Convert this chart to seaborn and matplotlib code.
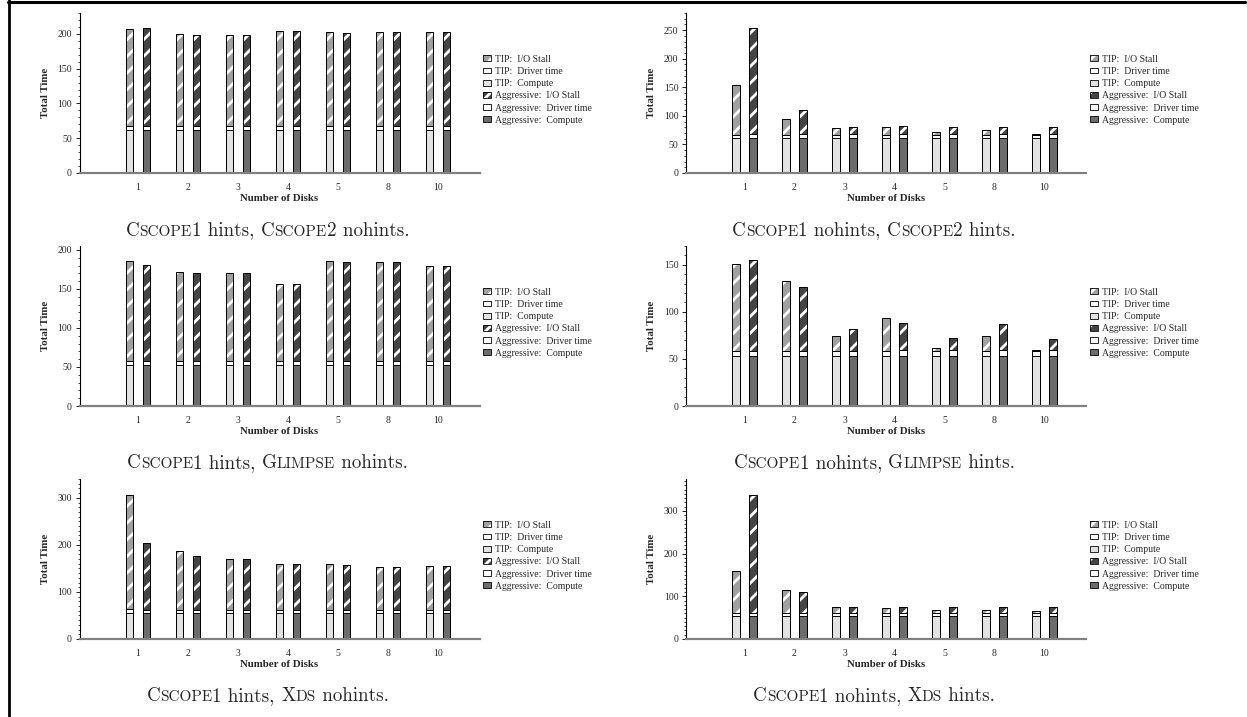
import pandas as pd
import seaborn as sns
import matplotlib.pyplot as plt
from matplotlib.patches import Patch
from matplotlib.lines import Line2D
from matplotlib.ticker import MultipleLocator

disks = ["1", "2", "3", "4", "5", "8", "10"]
policies = ["TIP", "Aggressive"]

#### Cscope1 hints, Cscope2 nohints
cs2_tip_compute = [62, 62, 62, 62, 62, 62, 62]
cs2_tip_driver = [6, 6, 6, 6, 6, 6, 6]
cs2_tip_stall = [139, 132, 131, 136, 134, 135, 134]
cs2_agg_compute = [62, 62, 62, 62, 62, 62, 62]
cs2_agg_driver = [6, 6, 6, 6, 6, 6, 6]
cs2_agg_stall = [141, 131, 130, 136, 133, 135, 134]

#### Cscope1 nohints, Cscope2 hints
cs2h_tip_compute = [62, 62, 62, 62, 62, 62, 62]
cs2h_tip_driver = [5, 5, 5, 5, 5, 5, 5]
cs2h_tip_stall = [87, 27, 11, 13, 4, 9, 1]
cs2h_agg_compute = [62, 62, 62, 62, 62, 62, 62]
cs2h_agg_driver = [7, 7, 7, 7, 7, 7, 7]
cs2h_agg_stall = [185, 41, 12, 14, 12, 12, 12]

#### Cscope1 hints, Glimpse nohints
gl_tip_compute = [53, 53, 53, 53, 53, 53, 53]
gl_tip_driver = [5, 5, 5, 5, 5, 5, 5]
gl_tip_stall = [128, 114, 112, 98, 128, 126, 122]
gl_agg_compute = [53, 53, 53, 53, 53, 53, 53]
gl_agg_driver = [5, 5, 5, 5, 5, 5, 5]
gl_agg_stall = [123, 113, 112, 98, 127, 126, 122]

#### Cscope1 nohints, Glimpse hints
glh_tip_compute = [53, 53, 53, 53, 53, 53, 53]
glh_tip_driver = [5, 5, 5, 5, 5, 5, 5]
glh_tip_stall = [93, 75, 16, 36, 4, 16, 2]
glh_agg_compute = [53, 53, 53, 53, 53, 53, 53]
glh_agg_driver = [5, 5, 5, 6, 6, 7, 7]
glh_agg_stall = [97, 68, 24, 29, 13, 27, 11]

#### Cscope1 hints, Xds nohints
xds_tip_compute = [55, 55, 55, 55, 55, 55, 55]
xds_tip_driver = [9, 6, 6, 6, 6, 6, 6]
xds_tip_stall = [243, 126, 108, 99, 98, 91, 94]
xds_agg_compute = [55, 55, 55, 55, 55, 55, 55]
xds_agg_driver = [6, 6, 6, 6, 6, 6, 6]
xds_agg_stall = [142, 115, 108, 99, 97, 91, 95]

#### Cscope1 nohints, Xds hints
xdsh_tip_compute = [55, 55, 55, 55, 55, 55, 55]
xdsh_tip_driver = [6, 6, 6, 6, 6, 6, 6]
xdsh_tip_stall = [98, 55, 14, 11, 8, 6, 5]
xdsh_agg_compute = [55, 55, 55, 55, 55, 55, 55]
xdsh_agg_driver = [6, 6, 6, 6, 6, 6, 6]
xdsh_agg_stall = [277, 49, 15, 15, 15, 15, 15]

# captions: (text, small caps?)
cap_cs2 = [("C", 0), ("SCOPE", 1), ("1 hints, ", 0), ("C", 0), ("SCOPE", 1), ("2 nohints.", 0)]
cap_cs2h = [("C", 0), ("SCOPE", 1), ("1 nohints, ", 0), ("C", 0), ("SCOPE", 1), ("2 hints.", 0)]
cap_gl = [("C", 0), ("SCOPE", 1), ("1 hints, ", 0), ("G", 0), ("LIMPSE", 1), (" nohints.", 0)]
cap_glh = [("C", 0), ("SCOPE", 1), ("1 nohints, ", 0), ("G", 0), ("LIMPSE", 1), (" hints.", 0)]
cap_xds = [("C", 0), ("SCOPE", 1), ("1 hints, ", 0), ("X", 0), ("DS", 1), (" nohints.", 0)]
cap_xdsh = [("C", 0), ("SCOPE", 1), ("1 nohints, ", 0), ("X", 0), ("DS", 1), (" hints.", 0)]

legend_labels = ["TIP:  I/O Stall", "TIP:  Driver time", "TIP:  Compute",
                 "Aggressive:  I/O Stall", "Aggressive:  Driver time", "Aggressive:  Compute"]

sns.set_style("ticks")
plt.rcParams["font.family"] = ["Liberation Serif", "DejaVu Serif"]
plt.rcParams["hatch.linewidth"] = 2.0

W, H = 1247, 717
fig = plt.figure(figsize=(W / 100, H / 100), dpi=100)

light = "#e2e2e2"
dark = "#6c6c6c"
tip_io = "#a0a0a0"
agg_io = "#444444"


def stacked(ax, tip, agg, top):
    rows = []
    for pol, (c, d, s) in zip(policies, [tip, agg]):
        for k, disk in enumerate(disks):
            rows.append({"disk": disk, "policy": pol, "compute": c[k],
                         "driver": c[k] + d[k], "total": c[k] + d[k] + s[k]})
    df = pd.DataFrame(rows)
    kw = dict(data=df, x="disk", hue="policy", order=disks, hue_order=policies,
              width=0.68, gap=0.55, errorbar=None, legend=False, saturation=1, ax=ax)
    io_pal = {"TIP": tip_io, "Aggressive": agg_io}
    # hatched stall part (white stripes)
    n = len(ax.patches)
    sns.barplot(y="total", palette=io_pal, **kw)
    for p in ax.patches[n:]:
        p.set_linewidth(0)
        p.set_edgecolor("white")
        p.set_hatch("//")
    # outline of the whole bar
    n = len(ax.patches)
    sns.barplot(y="total", palette=io_pal, **kw)
    for p in ax.patches[n:]:
        p.set_facecolor("none")
        p.set_edgecolor("black")
        p.set_linewidth(0.7)
    sns.barplot(y="driver", palette={"TIP": "white", "Aggressive": "white"},
                edgecolor="black", linewidth=0.7, **kw)
    sns.barplot(y="compute", palette={"TIP": light, "Aggressive": dark},
                edgecolor="black", linewidth=0.7, **kw)

    ax.set_xlim(-1.17, 6.83)
    ax.set_ylim(0, top)
    ax.yaxis.set_major_locator(MultipleLocator(100 if top > 300 else 50))
    ax.yaxis.set_minor_locator(MultipleLocator(10))
    ax.spines[["top", "right"]].set_visible(False)
    ax.spines["left"].set_color("black")
    ax.spines["left"].set_linewidth(0.8)
    ax.spines["bottom"].set_color("#808080")
    ax.spines["bottom"].set_linewidth(1.6)
    ax.tick_params(axis="x", length=0, pad=7.5, labelsize=7)
    ax.tick_params(axis="y", which="major", length=3, width=0.6, pad=2.5, labelsize=7, color="black")
    ax.tick_params(axis="y", which="minor", length=1.5, width=0.5, color="black")
    ax.set_xlabel("Number of Disks", fontsize=7.8, fontweight="bold")
    ax.set_ylabel("Total Time", fontsize=7.8, fontweight="bold")
    ax.xaxis.set_label_coords(0.5, -0.13)
    ax.yaxis.set_label_coords(-0.075, 0.5)

    handles = [
        (Patch(facecolor=tip_io, edgecolor="white", linewidth=0, hatch="//"),
         Patch(facecolor="none", edgecolor="black", linewidth=0.6)),
        Patch(facecolor="white", edgecolor="black", linewidth=0.6),
        Patch(facecolor=light, edgecolor="black", linewidth=0.6),
        (Patch(facecolor=agg_io, edgecolor="white", linewidth=0, hatch="//"),
         Patch(facecolor="none", edgecolor="black", linewidth=0.6)),
        Patch(facecolor="white", edgecolor="black", linewidth=0.6),
        Patch(facecolor=dark, edgecolor="black", linewidth=0.6),
    ]
    ax.legend(handles, legend_labels, loc="center left", bbox_to_anchor=(1.0, 0.52),
              frameon=False, fontsize=7, handlelength=0.8, handleheight=0.55,
              handletextpad=0.4, labelspacing=0.33, borderpad=0.2, borderaxespad=0.2)


def caption(cx, baseline, runs, big=13.7, small=11.0):
    r = fig.canvas.get_renderer()

    def adv(s, size):
        t1 = fig.text(0, 0, "|" + s + "|", fontsize=size, family="cmr10")
        t2 = fig.text(0, 0, "||", fontsize=size, family="cmr10")
        w = t1.get_window_extent(r).width - t2.get_window_extent(r).width
        t1.remove()
        t2.remove()
        return w

    sizes = [small if sc else big for _, sc in runs]
    widths = [adv(s, sz) for (s, _), sz in zip(runs, sizes)]
    x = cx - sum(widths) / 2
    for (s, _), sz, w in zip(runs, sizes, widths):
        fig.text(x / W, 1 - baseline / H, s, fontsize=sz, family="cmr10",
                 ha="left", va="baseline")
        x += w


panels = [
    ((cs2_tip_compute, cs2_tip_driver, cs2_tip_stall), (cs2_agg_compute, cs2_agg_driver, cs2_agg_stall), 230, cap_cs2),
    ((cs2h_tip_compute, cs2h_tip_driver, cs2h_tip_stall), (cs2h_agg_compute, cs2h_agg_driver, cs2h_agg_stall), 280, cap_cs2h),
    ((gl_tip_compute, gl_tip_driver, gl_tip_stall), (gl_agg_compute, gl_agg_driver, gl_agg_stall), 205, cap_gl),
    ((glh_tip_compute, glh_tip_driver, glh_tip_stall), (glh_agg_compute, glh_agg_driver, glh_agg_stall), 170, cap_glh),
    ((xds_tip_compute, xds_tip_driver, xds_tip_stall), (xds_agg_compute, xds_agg_driver, xds_agg_stall), 340, cap_xds),
    ((xdsh_tip_compute, xdsh_tip_driver, xdsh_tip_stall), (xdsh_agg_compute, xdsh_agg_driver, xdsh_agg_stall), 375, cap_xdsh),
]

lefts = [79.5, 686]
bottoms = [173, 406, 639]
baselines = [235.5, 468.5, 701]
ax_w, ax_h = 400, 160

for i, (tip, agg, top, cap) in enumerate(panels):
    row, col = divmod(i, 2)
    ax = fig.add_axes([lefts[col] / W, 1 - bottoms[row] / H, ax_w / W, ax_h / H])
    stacked(ax, tip, agg, top)
    caption(lefts[col] + ax_w / 2 - 12, baselines[row], cap)

# page frame
fig.add_artist(Line2D([8 / W, 1245 / W], [1 - 1.5 / H, 1 - 1.5 / H], color="black", lw=2.2))
fig.add_artist(Line2D([8.5 / W, 8.5 / W], [0, 1], color="black", lw=2.0))

fig.savefig("out.png", dpi=100)
